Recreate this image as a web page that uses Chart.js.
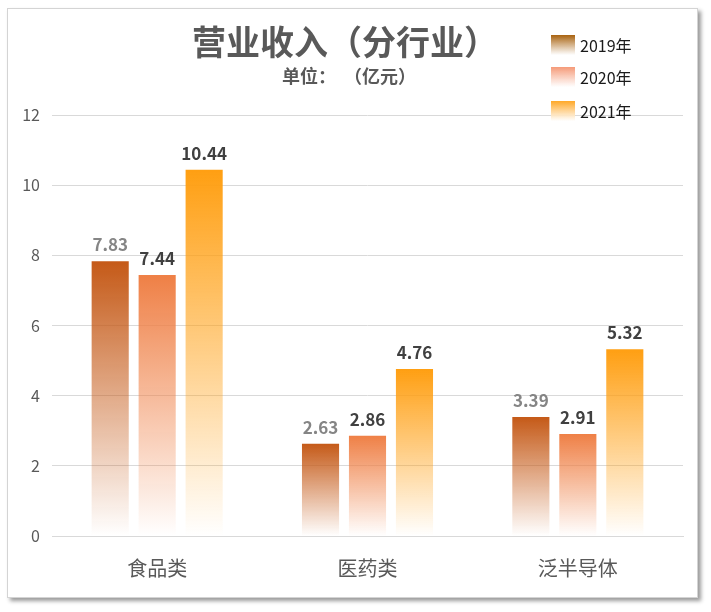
<!DOCTYPE html>
<html>
<head>
<meta charset="utf-8">
<script src="https://cdn.jsdelivr.net/npm/chart.js@4.4.1/dist/chart.umd.min.js"></script>
<style>
  body { margin: 0; background: #fff; }
  #card {
    position: absolute; left: 7px; top: 8px; width: 689px; height: 588px;
    border: 1px solid #d4d4d4; box-shadow: 3px 3px 4px #9a9a9a; background: #fff;
  }
  #wrap { position: absolute; left: 0; top: 0; width: 711px; height: 612px; }
</style>
</head>
<body>
<div id="card"></div>
<div id="wrap"><canvas id="myChart" width="711" height="612"></canvas></div>
<script>
var categories = ['食品类', '医药类', '泛半导体'];
var years = ['2019年', '2020年', '2021年'];
var revenue2019 = [7.83, 2.63, 3.39];
var revenue2020 = [7.44, 2.86, 2.91];
var revenue2021 = [10.44, 4.76, 5.32];
var yTicks = [0, 2, 4, 6, 8, 10, 12];

var barColors = ['#c55a18', '#ef8046', '#ff9f12'];
var legendColors = ['#a8620f', '#f59a78', '#ffa828'];
var labelColors = ['#858585', '#404040', '#404040'];

var font = '"Noto Sans CJK SC", "Noto Sans", sans-serif';

function hexToRgba(hex, a) {
  var n = parseInt(hex.slice(1), 16);
  return 'rgba(' + (n >> 16) + ',' + ((n >> 8) & 255) + ',' + (n & 255) + ',' + a + ')';
}

// each bar fades from its own top down to white
function barGradient(i) {
  return function (context) {
    var chart = context.chart;
    if (!chart.chartArea || context.raw === undefined) return barColors[i];
    var y = chart.scales.y;
    var top = y.getPixelForValue(context.raw);
    var bottom = y.getPixelForValue(0);
    var g = chart.ctx.createLinearGradient(0, top, 0, bottom);
    g.addColorStop(0, barColors[i]);
    g.addColorStop(0.5, hexToRgba(barColors[i], 0.5));
    g.addColorStop(1, hexToRgba(barColors[i], 0.0));
    return g;
  };
}

// title, subtitle, legend and value labels
var decorPlugin = {
  id: 'decor',
  afterDatasetsDraw: function (chart) {
    var ctx = chart.ctx;
    ctx.save();
    // value labels
    chart.data.datasets.forEach(function (ds, i) {
      var meta = chart.getDatasetMeta(i);
      ctx.font = 'bold 17px ' + font;
      ctx.fillStyle = labelColors[i];
      ctx.textAlign = 'center';
      ctx.textBaseline = 'bottom';
      meta.data.forEach(function (bar, j) {
        ctx.fillText(ds.data[j].toFixed(2), bar.x, bar.y - 8);
      });
    });
    // title
    ctx.fillStyle = '#595959';
    ctx.textAlign = 'center';
    ctx.textBaseline = 'middle';
    ctx.font = 'bold 34px ' + font;
    ctx.fillText('营业收入（分行业）', 345, 42);
    ctx.font = 'bold 18px ' + font;
    ctx.fillText('单位：  （亿元）', 349, 76);
    // legend
    var ys = [35, 67, 101];
    years.forEach(function (name, i) {
      var g = ctx.createLinearGradient(0, ys[i], 0, ys[i] + 20);
      g.addColorStop(0, legendColors[i]);
      g.addColorStop(1, 'rgba(255,255,255,0.9)');
      ctx.fillStyle = g;
      ctx.fillRect(551, ys[i], 24, 20);
      ctx.fillStyle = '#1a1a1a';
      ctx.textAlign = 'left';
      ctx.font = '16px ' + font;
      ctx.fillText(name, 580, ys[i] + 11);
    });
    ctx.restore();
  }
};

var ctx = document.getElementById('myChart').getContext('2d');
var myChart = new Chart(ctx, {
  type: 'bar',
  data: {
    labels: categories,
    datasets: [
      { label: years[0], data: revenue2019, backgroundColor: barGradient(0) },
      { label: years[1], data: revenue2020, backgroundColor: barGradient(1) },
      { label: years[2], data: revenue2021, backgroundColor: barGradient(2) }
    ]
  },
  options: {
    responsive: false,
    animation: false,
    categoryPercentage: 0.67,
    barPercentage: 0.79,
    layout: { padding: { top: 115, right: 28, bottom: 20, left: 0 } },
    plugins: { legend: { display: false }, tooltip: { enabled: false } },
    scales: {
      x: {
        grid: { display: false },
        border: { color: '#d9d9d9', width: 1 },
        ticks: { color: '#595959', font: { size: 20, family: font }, padding: 12 }
      },
      y: {
        min: 0, max: 12,
        afterFit: function (scale) { scale.width = 52; },
        afterBuildTicks: function (scale) {
          scale.ticks = yTicks.map(function (v) { return { value: v }; });
        },
        grid: { color: '#d9d9d9', drawTicks: false },
        border: { display: false },
        ticks: { color: '#595959', font: { size: 16, family: font }, padding: 12 }
      }
    }
  },
  plugins: [decorPlugin]
});
</script>
</body>
</html>
